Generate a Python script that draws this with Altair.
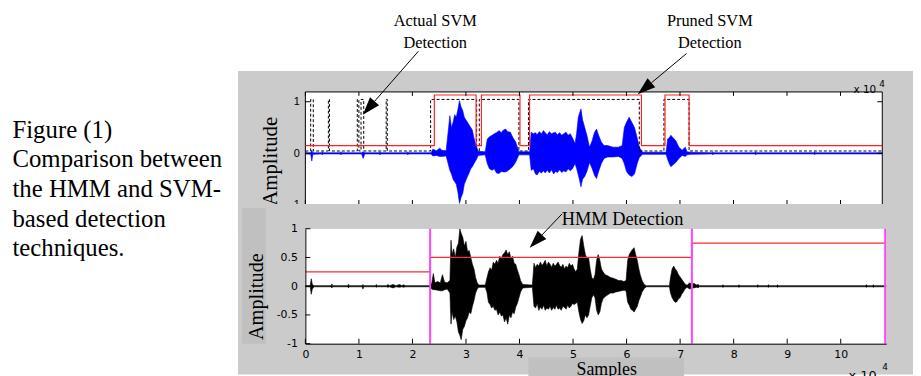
import altair as alt
import pandas as pd

# ---------------- data (sample positions in thousands of samples) ----------------
caption_lines = ["Figure (1)", "Comparison between", "the HMM and SVM-", "based detection", "techniques."]

# bottom panel waveform envelope (black)
bot_k = [
    0.0, 0.9, 1.1, 1.3, 1.6, 4.8, 4.95, 5.1, 7.9, 8.05,
    8.2, 10.6, 10.75, 10.9, 13.1, 13.25, 13.4, 15.2, 15.4, 15.7,
    16.4, 16.9, 17.6, 18.0, 18.4, 18.6, 23.3, 23.6, 23.9, 24.2,
    24.7, 25.2, 25.6, 26.0, 26.5, 27.0, 27.2, 27.4, 27.7, 28.0,
    28.3, 28.6, 28.85, 29.1, 29.4, 29.7, 30.0, 30.3, 30.6, 30.9,
    31.2, 31.5, 31.8, 32.1, 32.4, 33.6, 33.9, 34.2, 34.5, 34.8,
    35.1, 35.4, 35.7, 36.0, 36.3, 36.6, 36.9, 37.2, 37.5, 37.8,
    38.1, 38.4, 38.7, 39.0, 39.3, 39.6, 39.9, 40.2, 40.6, 42.4,
    42.7, 43.0, 43.3, 43.6, 43.9, 44.2, 44.5, 44.8, 45.1, 45.4,
    45.7, 46.0, 46.3, 46.6, 46.9, 47.2, 47.5, 47.8, 48.1, 48.4,
    48.7, 49.0, 49.3, 49.6, 49.9, 50.2, 50.5, 50.8, 51.1, 51.4,
    51.7, 52.0, 52.3, 52.6, 52.9, 53.2, 53.5, 53.8, 54.1, 54.4,
    54.7, 55.0, 55.3, 55.6, 56.0, 56.5, 57.0, 57.5, 58.0, 58.5,
    59.0, 59.5, 59.9, 60.2, 60.5, 60.8, 61.1, 61.4, 61.7, 62.0,
    62.3, 62.6, 62.9, 63.3, 63.7, 68.0, 68.2, 68.5, 68.8, 69.1,
    69.4, 69.7, 70.0, 70.3, 70.6, 70.9, 71.3, 71.8, 72.2, 72.6,
    73.0, 73.4, 73.6, 77.8, 78.0, 78.2, 80.8, 81.0, 81.2, 84.3,
    84.5, 84.7, 86.3, 86.5, 86.7, 88.0, 88.2, 88.4, 104.6, 104.8,
    105.0, 105.9, 106.1, 106.3, 108.5,
]
bot_hi = [
    .01, .01, .13, .03, .01, .01, .04, .01, .01, .035,
    .01, .01, .03, .01, .01, .03, .01, .01, .03, .01,
    .03, .01, .03, .01, .025, .01, .01, .05, .22, .06,
    .08, .06, .2, .07, .06, .1, .8, .55, .65, .5,
    .68, .75, 1.0, .92, .85, .7, .78, .6, .62, .5,
    .38, .3, .15, .06, .02, .02, .14, .25, .32, .28,
    .42, .38, .45, .4, .52, .48, .55, .58, .63, .55,
    .6, .48, .52, .4, .38, .28, .2, .1, .03, .02,
    .4, .32, .38, .35, .42, .36, .4, .45, .35, .42,
    .38, .33, .4, .35, .38, .42, .36, .33, .38, .3,
    .35, .32, .4, .35, .38, .3, .25, .3, .6, .82,
    .88, .7, .55, .48, .5, .3, .15, .12, .2, .45,
    .55, .45, .3, .25, .2, .18, .15, .14, .12, .1,
    .1, .08, .1, .45, .55, .6, .64, .67, .55, .45,
    .3, .18, .1, .03, .01, .01, .15, .3, .35, .3,
    .26, .2, .16, .12, .08, .04, .015, .06, .03, .05,
    .02, .03, .01, .01, .025, .01, .01, .025, .01, .01,
    .025, .01, .01, .025, .01, .01, .025, .01, .01, .025,
    .01, .01, .025, .01, .01,
]
bot_lo = [
    -.01, -.01, -.14, -.05, -.01, -.01, -.03, -.01, -.01, -.03,
    -.01, -.01, -.05, -.01, -.01, -.02, -.01, -.01, -.02, -.01,
    -.03, -.01, -.02, -.01, -.02, -.01, -.01, -.05, -.06, -.06,
    -.07, -.08, -.08, -.06, -.05, -.12, -.66, -.45, -.58, -.52,
    -.62, -.8, -.85, -.93, -.75, -.7, -.6, -.55, -.45, -.48,
    -.35, -.25, -.12, -.05, -.02, -.02, -.1, -.28, -.32, -.38,
    -.35, -.42, -.4, -.5, -.45, -.52, -.5, -.62, -.55, -.66,
    -.5, -.55, -.45, -.48, -.36, -.3, -.2, -.1, -.03, -.02,
    -.35, -.38, -.3, -.42, -.36, -.4, -.33, -.42, -.38, -.4,
    -.35, -.42, -.37, -.4, -.33, -.4, -.38, -.42, -.35, -.37,
    -.4, -.33, -.38, -.35, -.3, -.32, -.3, -.28, -.45, -.58,
    -.65, -.6, -.5, -.55, -.5, -.35, -.2, -.15, -.2, -.42,
    -.5, -.45, -.3, -.22, -.18, -.15, -.12, -.12, -.1, -.09,
    -.08, -.07, -.08, -.28, -.33, -.4, -.42, -.45, -.4, -.35,
    -.25, -.18, -.1, -.04, -.01, -.01, -.12, -.2, -.25, -.28,
    -.27, -.22, -.2, -.14, -.1, -.05, -.02, -.05, -.03, -.03,
    -.02, -.025, -.01, -.01, -.02, -.01, -.01, -.02, -.01, -.01,
    -.02, -.01, -.01, -.02, -.01, -.01, -.02, -.01, -.01, -.02,
    -.01, -.01, -.02, -.01, -.01,
]

# top panel waveform envelope (blue)
top_k = [
    0.0, 1.0, 1.2, 1.4, 3.0, 3.15, 3.3, 6.5, 6.65, 6.8,
    10.5, 10.8, 11.1, 13.8, 13.95, 14.1, 19.0, 19.15, 19.3, 23.5,
    23.8, 24.5, 25.1, 25.5, 26.3, 27.0, 27.3, 27.6, 27.9, 28.2,
    28.5, 28.8, 29.1, 29.4, 29.7, 30.0, 30.3, 30.6, 30.9, 31.2,
    31.5, 31.9, 32.3, 33.6, 34.0, 34.4, 34.9, 35.3, 35.7, 36.2,
    36.6, 37.0, 37.4, 37.8, 38.3, 38.8, 39.3, 39.9, 41.9, 42.2,
    42.6, 43.0, 43.3, 43.7, 44.1, 44.5, 44.8, 45.2, 45.6, 46.0,
    46.4, 46.7, 47.1, 47.5, 47.9, 48.3, 48.7, 49.1, 49.5, 49.9,
    50.4, 50.7, 51.0, 51.3, 51.5, 51.8, 52.2, 52.6, 53.1, 53.6,
    54.0, 54.4, 54.8, 55.3, 55.8, 56.5, 57.5, 58.5, 59.2, 59.6,
    60.0, 60.5, 61.0, 61.5, 62.0, 62.4, 63.0, 67.4, 67.7, 68.0,
    68.3, 68.7, 69.2, 69.8, 70.4, 71.0, 71.3, 72.0, 76.0, 76.15,
    76.3, 84.0, 84.15, 84.3, 95.0, 95.15, 95.3, 107.8,
]
top_hi = [
    .012, .012, .06, .012, .012, .03, .012, .012, .03, .012,
    .012, .03, .012, .012, .03, .012, .012, .03, .012, .012,
    .08, .05, .1, .06, .05, .73, .5, .6, .75, .7,
    .85, 1.02, .9, .83, .7, .65, .6, .55, .5, .45,
    .3, .15, .04, .03, .28, .32, .35, .38, .4, .44,
    .4, .45, .47, .42, .41, .3, .22, .03, .03, .41,
    .38, .4, .36, .42, .38, .44, .4, .36, .42, .38,
    .4, .41, .36, .4, .35, .38, .41, .35, .38, .3,
    .19, .4, .7, .8, .86, .65, .5, .35, .12, .25,
    .4, .47, .35, .22, .15, .15, .12, .12, .15, .5,
    .6, .7, .6, .5, .3, .12, .02, .02, .28, .3,
    .35, .3, .25, .12, .06, .12, .03, .02, .012, .03,
    .012, .012, .03, .012, .012, .03, .012, .012,
]
top_lo = [
    -.012, -.02, -.15, -.02, -.012, -.03, -.012, -.012, -.03, -.012,
    -.012, -.1, -.012, -.012, -.03, -.012, -.012, -.03, -.012, -.012,
    -.05, -.04, -.06, -.06, -.05, -.33, -.4, -.5, -.55, -.6,
    -.75, -.97, -.85, -.78, -.6, -.52, -.45, -.38, -.3, -.26,
    -.2, -.13, -.04, -.03, -.2, -.3, -.33, -.3, -.38, -.39,
    -.35, -.36, -.36, -.34, -.3, -.25, -.17, -.03, -.03, -.33,
    -.3, -.4, -.42, -.35, -.38, -.34, -.38, -.33, -.38, -.32,
    -.4, -.35, -.37, -.32, -.37, -.34, -.36, -.3, -.34, -.3,
    -.2, -.3, -.42, -.55, -.65, -.5, -.45, -.35, -.18, -.3,
    -.42, -.49, -.35, -.2, -.1, -.07, -.07, -.06, -.1, -.2,
    -.35, -.42, -.45, -.4, -.2, -.08, -.02, -.02, -.12, -.2,
    -.26, -.22, -.18, -.1, -.04, -.06, -.03, -.02, -.012, -.03,
    -.012, -.012, -.03, -.012, -.012, -.03, -.012, -.012,
]

# pruned SVM detection (red step) and actual SVM detection (black dashed step)
pruned_k = [0, 24.1, 31.9, 32.9, 40.1, 41.9, 62.8, 67.2, 71.7, 107.8]
pruned_v = [0.15, 1.13, 0.15, 1.13, 0.15, 1.13, 0.15, 1.13, 0.15, 0.15]
actual_k = [0, 0.99, 1.48, 4.3, 4.5, 9.7, 10.0, 10.4, 10.9, 15.1,
            15.3, 23.4, 32.0, 32.5, 39.9, 41.7, 62.4, 67.0, 71.7, 107.8]
actual_v = [0.045, 1.045, 0.045, 1.045, 0.045, 1.045, 0.045, 1.045, 0.045, 1.045,
            0.045, 1.045, 0.045, 1.045, 0.045, 1.045, 0.045, 1.045, 0.045, 0.045]

# HMM detection (red step) and segment boundaries (magenta)
hmm_k = [0, 23.3, 72.2, 108.5]
hmm_v = [0.25, 0.5, 0.75, 0.75]
boundary_k = [23.3, 72.2, 108.3]

# ticks
x_tick_k = [0, 10, 20, 30, 40, 50, 60, 70, 80, 90, 100]
top_y_ticks = [-1, 0, 1]
bot_y_ticks = [-1, -0.5, 0, 0.5, 1]

# ---------------- tables ----------------
top_df = pd.DataFrame({"k": [v * 1000 for v in top_k], "hi": top_hi, "lo": top_lo})
bot_df = pd.DataFrame({"k": [v * 1000 for v in bot_k], "hi": bot_hi, "lo": bot_lo})
pruned_df = pd.DataFrame({"k": [v * 1000 for v in pruned_k], "v": pruned_v})
actual_df = pd.DataFrame({"k": [v * 1000 for v in actual_k], "v": actual_v})
hmm_df = pd.DataFrame({"k": [v * 1000 for v in hmm_k], "v": hmm_v})
bound_df = pd.DataFrame({"k": [v * 1000 for v in boundary_k]})
xt_df = pd.DataFrame({"k": [v * 1000 for v in x_tick_k]})
ytt_df = pd.DataFrame({"v": top_y_ticks})
ytb_df = pd.DataFrame({"v": bot_y_ticks})
one = pd.DataFrame({"d": [0]})

# ---------------- styling ----------------
SERIF = "Liberation Serif"
GRAY = "#cbcbcb"
DARK = "#c0c0c0"
HEAD = "M0,-1L0.67,1L-0.67,1Z"
TOP_W, TOP_H = 582, 114
BOT_W, BOT_H = 586, 116
NEG = "datum.value < 0 ? '-' + format(-datum.value, '~g') : format(datum.value, '~g')"

xs_top = alt.Scale(domain=[0, 107800], nice=False, zero=False)
ys_top = alt.Scale(domain=[-1, 1.19], nice=False, zero=False)
xs_bot = alt.Scale(domain=[0, 108500], nice=False, zero=False)
ys_bot = alt.Scale(domain=[-1, 1], nice=False, zero=False)

ax_top_y = alt.Axis(values=top_y_ticks, title=None, ticks=False, domain=False, grid=False,
                    labelFont="Liberation Sans", labelFontSize=11, labelColor="black",
                    labelPadding=6, zindex=1, labelExpr=NEG)
ax_bot_y = alt.Axis(values=bot_y_ticks, title=None, ticks=False, domain=True, domainColor="black",
                    grid=False, labelFont="DejaVu Sans", labelFontSize=11, labelColor="black",
                    labelPadding=8, zindex=1, labelExpr=NEG)
ax_bot_x = alt.Axis(values=[v * 1000 for v in x_tick_k], title=None, ticks=False, domain=True,
                    domainColor="black", grid=False, labelFont="DejaVu Sans", labelFontSize=11,
                    labelColor="black", labelPadding=5, labelFlush=False, zindex=1,
                    labelExpr="format(datum.value / 10000, 'd')")

TX = alt.X("k:Q", scale=xs_top, axis=None)
BX = alt.X("k:Q", scale=xs_bot, axis=ax_bot_x)


def TY(f):
    return alt.Y(f"{f}:Q", scale=ys_top, axis=ax_top_y)


def BY(f):
    return alt.Y(f"{f}:Q", scale=ys_bot, axis=ax_bot_y)


def box(x1, x2, y1, y2, **kw):
    return alt.Chart(one).mark_rect(**kw).encode(
        x=alt.value(x1), x2=alt.value(x2), y=alt.value(y1), y2=alt.value(y2))


def label(x, y, text, **kw):
    return alt.Chart(one).mark_text(color="black", **kw).encode(
        x=alt.value(x), y=alt.value(y), text=alt.value(text))


def arrow(x1, y1, x2, y2, hx, hy, ang):
    line = alt.Chart(one).mark_rule(color="black", strokeWidth=1).encode(
        x=alt.value(x1), y=alt.value(y1), x2=alt.value(x2), y2=alt.value(y2))
    head = alt.Chart(one).mark_point(shape=HEAD, filled=True, color="black", opacity=1,
                                     size=324, angle=ang, strokeWidth=0).encode(
        x=alt.value(hx), y=alt.value(hy))
    return [line, head]


# ---------------- top panel ----------------
top_layers = [
    box(-300, 613, -83, 285, color="white"),
    box(-68, 613, -21, 285, color=GRAY),
    box(0, TOP_W, 0, TOP_H, fill="white", stroke="black", strokeWidth=1),
    alt.Chart(top_df).mark_area(color="#0000ff", stroke="#0000ff", strokeWidth=0.6, clip=True).encode(
        x=TX, y=TY("hi"), y2="lo:Q"),
    alt.Chart(actual_df).mark_line(color="black", strokeDash=[3, 2], strokeWidth=1,
                                   interpolate="step-after", clip=True).encode(x=TX, y=TY("v")),
    alt.Chart(pruned_df).mark_line(color="#ff2222", strokeWidth=1.2,
                                   interpolate="step-after", clip=True).encode(x=TX, y=TY("v")),
    alt.Chart(xt_df).mark_rule(color="black").encode(x=TX, y=alt.value(0), y2=alt.value(4)),
    alt.Chart(xt_df).mark_rule(color="black").encode(x=TX, y=alt.value(TOP_H - 5), y2=alt.value(TOP_H)),
    alt.Chart(ytt_df).mark_rule(color="black").encode(y=TY("v"), x=alt.value(0), x2=alt.value(5)),
    alt.Chart(ytt_df).mark_rule(color="black").encode(y=TY("v"), x=alt.value(TOP_W - 5), x2=alt.value(TOP_W)),
    label(-295.5, 46, caption_lines, align="left", baseline="alphabetic", font=SERIF,
          fontSize=25, lineHeight=30),
    label(131, -67, ["Actual SVM", "Detection"], align="center", baseline="alphabetic",
          font=SERIF, fontSize=16.5, lineHeight=23),
    label(408, -67, ["Pruned SVM", "Detection"], align="center", baseline="alphabetic",
          font=SERIF, fontSize=16.5, lineHeight=23),
    label(-35, 70, "Amplitude", angle=270, align="center", baseline="middle", font=SERIF, fontSize=21),
    label(553, 1, "x 10", align="left", baseline="alphabetic", font="DejaVu Sans", fontSize=10.5),
    label(579, -5, "4", align="left", baseline="alphabetic", font="DejaVu Sans", fontSize=9),
]
top_layers += arrow(114, -41, 69.8, 9.5, 63.9, 16.2, 221)
top_layers += arrow(384.5, -38.7, 349.1, -9.2, 342.2, -3.5, 230)
top = alt.layer(*top_layers).properties(width=TOP_W, height=TOP_H)

# ---------------- bottom panel ----------------
bot_layers = [
    box(-68, 613, -25, 0, color=GRAY),
    box(-64, -40, -21, BOT_H, color=DARK),
    box(225, 382, 130, 152, color=DARK),
    alt.Chart(bot_df).mark_area(color="black", stroke="black", strokeWidth=0.6, clip=True).encode(
        x=BX, y=BY("hi"), y2="lo:Q"),
    alt.Chart(hmm_df).mark_line(color="#ff2a2a", strokeWidth=1.2,
                                interpolate="step-after", clip=True).encode(x=BX, y=BY("v")),
    alt.Chart(bound_df).mark_rule(color="#ff44ff", strokeWidth=2).encode(x=BX),
    alt.Chart(xt_df).mark_rule(color="black").encode(x=BX, y=alt.value(BOT_H - 5), y2=alt.value(BOT_H)),
    alt.Chart(ytb_df).mark_rule(color="black").encode(y=BY("v"), x=alt.value(0), x2=alt.value(5)),
    label(320, -4, "HMM Detection", align="center", baseline="alphabetic", font=SERIF, fontSize=18.5),
    label(-49, 68.5, "Amplitude", angle=270, align="center", baseline="middle", font=SERIF, fontSize=20.5),
    label(304, 148, "Samples", align="center", baseline="alphabetic", font=SERIF, fontSize=18),
    label(548, 153, "x 10", align="left", baseline="alphabetic", font="DejaVu Sans", fontSize=13),
    label(582, 143, "4", align="left", baseline="alphabetic", font="DejaVu Sans", fontSize=9),
]
bot_layers += arrow(259, -15, 238.7, 6.3, 232.5, 12.8, 223.6)
bottom = alt.layer(*bot_layers).properties(width=BOT_W, height=BOT_H)

chart = (
    alt.vconcat(top, bottom, spacing=24, bounds="flush")
    .resolve_scale(x="independent", y="independent")
    .properties(padding=0)
    .configure_view(stroke=None, fill="white")
)

chart.save("out.html", embed_options={"renderer": "svg", "actions": False})
